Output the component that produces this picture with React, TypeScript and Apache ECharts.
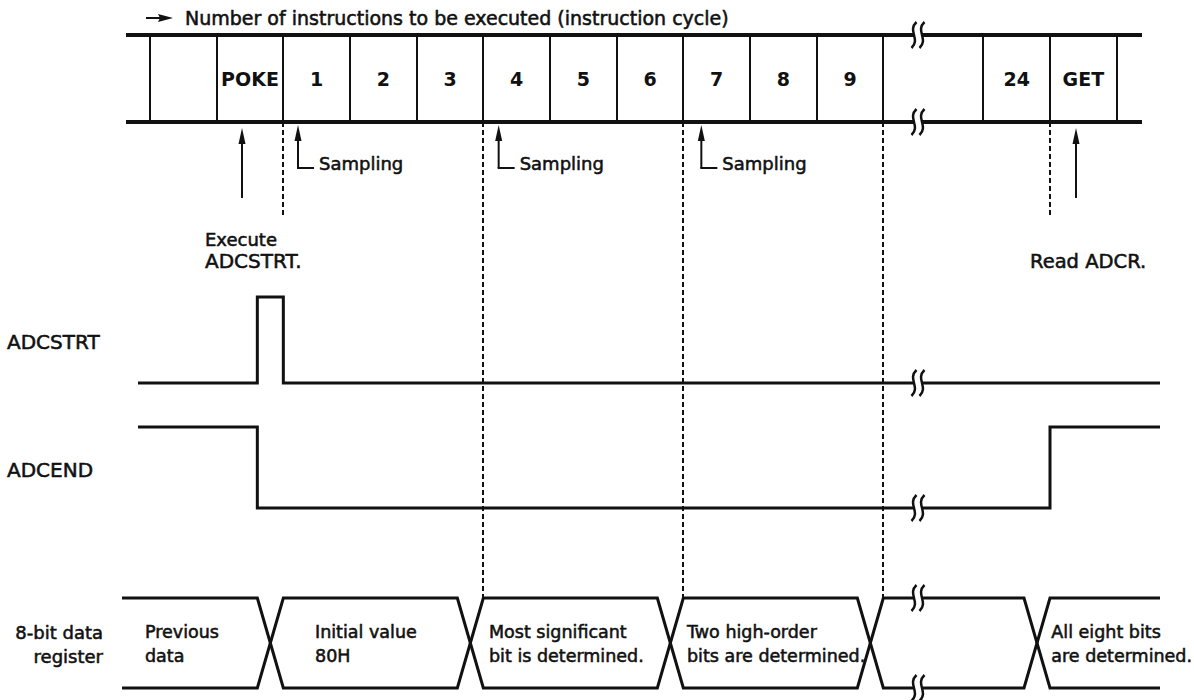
import React, { useEffect, useRef } from "react";
import * as echarts from "echarts";

// ---------- data (time unit = one instruction cycle; 0 = left edge of first cell) ----------
const CELL_EDGES = [0, 1, 2, 3, 4, 5, 6, 7, 8, 9, 10, 11, 12.5, 13.5, 14.5];
const CELL_LABELS = ["POKE", "1", "2", "3", "4", "5", "6", "7", "8", "9", "24", "GET"];
const CELL_CENTERS = [1.5, 2.5, 3.5, 4.5, 5.5, 6.5, 7.5, 8.5, 9.5, 10.5, 13, 14];
const RAIL_SPAN = [-0.36, 14.88];
const BREAK_AT = 11.52;

const ADCSTRT_WAVE = [[-0.18, 0], [1.61, 0], [1.61, 1], [2, 1], [2, 0], [15.15, 0]];
const ADCEND_WAVE = [[-0.18, 1], [1.61, 1], [1.61, 0], [13.5, 0], [13.5, 1], [15.15, 1]];
const BUS_SPAN = [-0.42, 15.15];
const BUS_TRANSITIONS = [[1.61, 2], [4.61, 5], [7.61, 8], [10.61, 11], [13.11, 13.5]];

const SAMPLING_AT = [2.22, 5.23, 8.27];
const POKE_ARROW = 1.38;
const GET_ARROW = 13.89;
const GUIDES = [2, 5, 8, 11, 13.5];

const BUS_TEXTS = [
  ["Previous", "data"],
  ["Initial value", "80H"],
  ["Most significant", "bit is determined."],
  ["Two high-order", "bits are determined."],
  ["All eight bits", "are determined."],
];
const BUS_TEXT_AT = [-0.075, 2.475, 5.085, 8.055, 13.52];

// ---------- layout ----------
const PX_PER_CYCLE = 200 / 3;
const X_MIN = -150 / PX_PER_CYCLE;
const X_MAX = X_MIN + 1194 / PX_PER_CYCLE;
const RAIL_Y = [35, 122];
const STRT_Y = { low: 383, high: 297 };
const END_Y = { low: 508, high: 427 };
const BUS_Y = { top: 598, bottom: 688 };
const INK = "#111";
const FONT = "'DejaVu Sans', sans-serif";
const FS = 18;

function busLines() {
  const upper: number[][] = [[BUS_SPAN[0], BUS_Y.top]];
  const lower: number[][] = [[BUS_SPAN[0], BUS_Y.bottom]];
  let up = true;
  BUS_TRANSITIONS.forEach(([a, b]) => {
    upper.push([a, up ? BUS_Y.top : BUS_Y.bottom], [b, up ? BUS_Y.bottom : BUS_Y.top]);
    lower.push([a, up ? BUS_Y.bottom : BUS_Y.top], [b, up ? BUS_Y.top : BUS_Y.bottom]);
    up = !up;
  });
  upper.push([BUS_SPAN[1], up ? BUS_Y.top : BUS_Y.bottom]);
  lower.push([BUS_SPAN[1], up ? BUS_Y.bottom : BUS_Y.top]);
  return { upper, lower };
}

const textEl = (x: number, y: number, text: string, opts: any = {}) => ({
  type: "text",
  x,
  y,
  style: {
    text,
    fill: INK,
    stroke: opts.weight === "bold" ? null : INK,
    lineWidth: opts.weight === "bold" ? 0 : 0.55,
    fontFamily: FONT,
    fontSize: opts.size || FS,
    fontWeight: opts.weight || "normal",
    textAlign: opts.align || "left",
    align: opts.align || "left",
    textVerticalAlign: "middle",
    verticalAlign: "middle",
  },
});

export default function App() {
  const ref = useRef<HTMLDivElement>(null);
  useEffect(() => {
    if (!ref.current) return;
    const chart = echarts.init(ref.current, undefined, { renderer: "svg" });
    const { upper, lower } = busLines();
    const wave = (w: number[][], r: { low: number; high: number }) =>
      w.map(([t, l]) => [t, l ? r.high : r.low]);

    const lineSeries = (data: number[][], width: number) => ({
      type: "line",
      data,
      symbol: "none",
      silent: true,
      lineStyle: { color: INK, width, cap: "butt", join: "miter" },
      z: 2,
    });

    const cellSegs = CELL_EDGES.map((u) => [u, RAIL_Y[0], u, RAIL_Y[1]]);
    const guideSegs: number[][] = [];
    GUIDES.forEach((u) => {
      if (u === 2) {
        guideSegs.push([u, RAIL_Y[1], u, 217], [u, 287, BUS_Y.top]);
      } else if (u === 13.5) {
        guideSegs.push([u, RAIL_Y[1], u, 215], [u, 293, BUS_Y.top]);
      } else {
        guideSegs.push([u, RAIL_Y[1], u, BUS_Y.top]);
      }
    });

    const segSeries = (segs: number[][], style: any, z = 1) => ({
      type: "custom",
      coordinateSystem: "cartesian2d",
      silent: true,
      clip: false,
      z,
      data: segs.map((s) => [s[0], s[1]]),
      renderItem: (params: any, api: any) => {
        const s = segs[params.dataIndex];
        const p1 = api.coord([s[0], s[1]]);
        const p2 = api.coord([s[2], s[3]]);
        const x1 = Math.round(p1[0]);
        const x2 = Math.round(p2[0]);
        return {
          type: "line",
          shape: { x1, y1: p1[1], x2, y2: p2[1] },
          style: { stroke: INK, fill: null, ...style },
        };
      },
    });

    const arrows = [
      ...SAMPLING_AT.map((u) => [u, 168, 125, 1]),
      [POKE_ARROW, 198, 128, 0],
      [GET_ARROW, 198, 128, 0],
    ];
    const arrowSeries = {
      type: "custom",
      coordinateSystem: "cartesian2d",
      silent: true,
      clip: false,
      z: 3,
      data: arrows.map((a) => [a[0], a[1]]),
      renderItem: (params: any, api: any) => {
        const a = arrows[params.dataIndex];
        const b = api.coord([a[0], a[1]]);
        const t = api.coord([a[0], a[2]]);
        const children: any[] = [
          { type: "line", shape: { x1: b[0], y1: b[1], x2: t[0], y2: t[1] + 10 }, style: { stroke: INK, lineWidth: 2 } },
          { type: "polygon", shape: { points: [[t[0], t[1]], [t[0] - 3.5, t[1] + 16], [t[0] + 3.5, t[1] + 16]] }, style: { fill: INK } },
        ];
        if (a[3]) {
          children.push({ type: "line", shape: { x1: b[0] - 1, y1: b[1], x2: b[0] + 16, y2: b[1] }, style: { stroke: INK, lineWidth: 2 } });
          const tp = api.coord([a[0], a[1] - 5]);
          children.push(textEl(b[0] + 21, tp[1], "Sampling"));
        }
        return { type: "group", children };
      },
    };

    const titleSeries = {
      type: "custom",
      coordinateSystem: "cartesian2d",
      silent: true,
      clip: false,
      z: 3,
      data: [[-0.06, 18]],
      renderItem: (params: any, api: any) => {
        const p = api.coord([-0.06, 18]);
        return {
          type: "group",
          children: [
            { type: "line", shape: { x1: p[0], y1: p[1], x2: p[0] + 16, y2: p[1] }, style: { stroke: INK, lineWidth: 2 } },
            { type: "polygon", shape: { points: [[p[0] + 27, p[1]], [p[0] + 12, p[1] - 4], [p[0] + 14, p[1]], [p[0] + 12, p[1] + 4]] }, style: { fill: INK } },
            textEl(p[0] + 39, p[1], "Number of instructions to be executed (instruction cycle)", { size: 19 }),
          ],
        };
      },
    };

    const breakRows = [RAIL_Y[0], RAIL_Y[1], STRT_Y.low, END_Y.low, BUS_Y.top, BUS_Y.bottom];
    const breakSeries = {
      type: "custom",
      coordinateSystem: "cartesian2d",
      silent: true,
      clip: false,
      z: 5,
      data: breakRows.map((y) => [BREAK_AT, y]),
      renderItem: (params: any, api: any) => {
        const p = api.coord([BREAK_AT, breakRows[params.dataIndex]]);
        const stroke = (cx: number) => ({
          type: "bezierCurve",
          shape: {
            x1: cx + 2.5, y1: p[1] - 13,
            cpx1: cx - 7, cpy1: p[1] - 4,
            cpx2: cx + 7, cpy2: p[1] + 4,
            x2: cx - 2.5, y2: p[1] + 13,
          },
          style: { stroke: INK, lineWidth: 2.5, fill: null },
        });
        return {
          type: "group",
          children: [
            { type: "rect", shape: { x: p[0] - 4, y: p[1] - 4, width: 8, height: 8 }, style: { fill: "#fff" } },
            stroke(p[0] - 4),
            stroke(p[0] + 4),
          ],
        };
      },
    };

    type T = [number, number, string, any?];
    const texts: T[] = [];
    CELL_LABELS.forEach((s, i) => texts.push([CELL_CENTERS[i], 79, s, { align: "center", weight: "bold", size: 19 }]));
    texts.push([0.825, 239, "Execute"], [0.825, 261, "ADCSTRT.", { size: 20 }]);
    texts.push([13.2, 261, "Read ADCR.", { size: 19.5 }]);
    texts.push([X_MIN + 7 / PX_PER_CYCLE, 342, "ADCSTRT", { size: 20 }]);
    texts.push([X_MIN + 7 / PX_PER_CYCLE, 470, "ADCEND", { size: 20 }]);
    texts.push([X_MIN + 103 / PX_PER_CYCLE, 632, "8-bit data", { align: "right" }]);
    texts.push([X_MIN + 103 / PX_PER_CYCLE, 656, "register", { align: "right" }]);
    BUS_TEXTS.forEach((pair, i) => {
      texts.push([BUS_TEXT_AT[i], 632, pair[0], { size: 17.5 }], [BUS_TEXT_AT[i], 656, pair[1], { size: 17.5 }]);
    });
    const textSeries = {
      type: "custom",
      coordinateSystem: "cartesian2d",
      silent: true,
      clip: false,
      z: 6,
      data: texts.map((t) => [t[0], t[1]]),
      renderItem: (params: any, api: any) => {
        const t = texts[params.dataIndex];
        const p = api.coord([t[0], t[1]]);
        return textEl(p[0], p[1], t[2], t[3] || {});
      },
    };

    chart.setOption({
      animation: false,
      backgroundColor: "#fff",
      grid: { left: 0, right: 0, top: 0, bottom: 0, containLabel: false },
      xAxis: { type: "value", min: X_MIN, max: X_MAX, show: false },
      yAxis: { type: "value", min: 0, max: 700, inverse: true, show: false },
      series: [
        lineSeries([[RAIL_SPAN[0], RAIL_Y[0]], [RAIL_SPAN[1], RAIL_Y[0]]], 4),
        lineSeries([[RAIL_SPAN[0], RAIL_Y[1]], [RAIL_SPAN[1], RAIL_Y[1]]], 4),
        segSeries(cellSegs, { lineWidth: 2 }, 1),
        segSeries(guideSegs, { lineWidth: 2, lineDash: [5, 3] }, 1),
        lineSeries(wave(ADCSTRT_WAVE, STRT_Y), 3),
        lineSeries(wave(ADCEND_WAVE, END_Y), 3),
        lineSeries(upper, 3),
        lineSeries(lower, 3),
        arrowSeries,
        titleSeries,
        breakSeries,
        textSeries,
      ],
    });
    return () => chart.dispose();
  }, []);
  return (
    <div
      ref={ref}
      style={{ position: "fixed", left: 0, top: 0, width: 1194, height: 700, background: "#fff" }}
    />
  );
}
